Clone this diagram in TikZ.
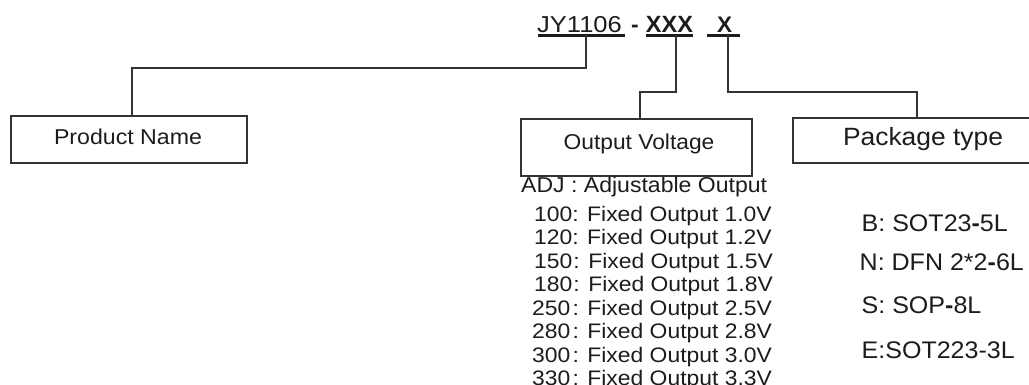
\documentclass[tikz,border=0pt]{standalone}
\usepackage{fontspec}
\setmainfont{Liberation Sans}
\newcommand\hs[2]{\scalebox{#1}[1]{#2}}
\definecolor{ink}{HTML}{1C1C1C}
\definecolor{linec}{HTML}{333333}
\tikzset{
  conn/.style={draw=linec, line width=1.4pt},
  boxn/.style={draw=linec, line width=1.1pt, inner sep=0pt, rectangle},
  txt/.style={inner sep=0pt, text=ink},
  uline/.style={draw=ink, line width=2.4pt},
  vlist/.style={txt, anchor=base west, font=\fontsize{21}{23}\selectfont},
  plist/.style={txt, anchor=base west, font=\fontsize{24}{26}\selectfont},
}
\begin{document}
\begin{tikzpicture}[x=1pt,y=-1pt]
\useasboundingbox (0,0) rectangle (1029,385);
% title
\node[txt, anchor=base west, font=\fontsize{23}{25}\selectfont] (jy) at (537,33) {\hs{1.11}{JY1106}};
\node[txt, anchor=base, font=\bfseries\fontsize{23}{25}\selectfont] (dash) at (635,33) {-};
\node[txt, anchor=base, font=\bfseries\fontsize{23.5}{25}\selectfont] (xxx) at (669.5,33) {XXX};
\node[txt, anchor=base, font=\bfseries\fontsize{22.5}{25}\selectfont] (xx) at (724.5,33) {X};
\draw[uline] (538,35.5) -- (625,35.5);
\draw[uline] (646,35.5) -- (693,35.5);
\draw[uline] (707,35.5) -- (740,35.5);
% boxes
\node[boxn, minimum width=236pt, minimum height=47pt] (pn) at (129,139.5) {};
\node[boxn, minimum width=231pt, minimum height=57pt] (ov) at (636.5,147.5) {};
\node[boxn, minimum width=247pt, minimum height=45pt] (pk) at (916.5,140.5) {};
\node[txt, anchor=base, font=\fontsize{21.5}{24}\selectfont] (pnt) at (128,145) {\hs{1.077}{Product Name}};
\node[txt, anchor=base, font=\fontsize{21.5}{24}\selectfont] (ovt) at (639,150) {\hs{1.06}{Output Voltage}};
\node[txt, anchor=base, font=\fontsize{25}{27}\selectfont] (pkt) at (923,146) {\hs{1.056}{Package type}};
% connectors
\coordinate (u1) at (586,35.5);
\coordinate (k1) at (132,68);
\coordinate (u2) at (676,35.5);
\coordinate (k2) at (640,92);
\coordinate (u3) at (728,35.5);
\coordinate (k3) at (917,92);
\draw[conn] (u1) |- (k1) -- (k1 |- pn.north);
\draw[conn] (u2) |- (k2) -- (k2 |- ov.north);
\draw[conn] (u3) |- (k3) -- (k3 |- pk.north);
% voltage list
\node[txt, anchor=base west, font=\fontsize{21.5}{24}\selectfont] (adj) at (521,193) {\hs{1.072}{ADJ : Adjustable Output}};
\node[vlist] (v1) at (534,222) {\hs{1.09}{100: Fixed Output 1.0V}};
\node[vlist] (v2) at (534,244.5) {\hs{1.09}{120: Fixed Output 1.2V}};
\node[vlist] (v3) at (534,268) {\hs{1.09}{150\kern1pt: Fixed Output 1.5V}};
\node[vlist] (v4) at (534,291.5) {\hs{1.09}{180\kern1pt: Fixed Output 1.8V}};
\node[vlist] (v5) at (532,315) {\hs{1.09}{250\kern2pt: Fixed Output 2.5V}};
\node[vlist] (v6) at (532,338.5) {\hs{1.09}{280\kern2pt: Fixed Output 2.8V}};
\node[vlist] (v7) at (532,362) {\hs{1.09}{300\kern2pt: Fixed Output 3.0V}};
\node[vlist] (v8) at (532,385.5) {\hs{1.09}{330\kern2pt: Fixed Output 3.3V}};
% package list
\node[plist] (p1) at (861.5,231) {\hs{1.043}{B: SOT23\textbf{-}5L}};
\node[plist] (p2) at (859.5,270) {\hs{1.043}{N: DFN 2*2\textbf{-}6L}};
\node[plist] (p3) at (861.5,313) {\hs{1.043}{S: SOP\textbf{-}8L}};
\node[plist] (p4) at (861.5,358) {\hs{1.043}{E:SOT223-3L}};
\end{tikzpicture}
\end{document}
